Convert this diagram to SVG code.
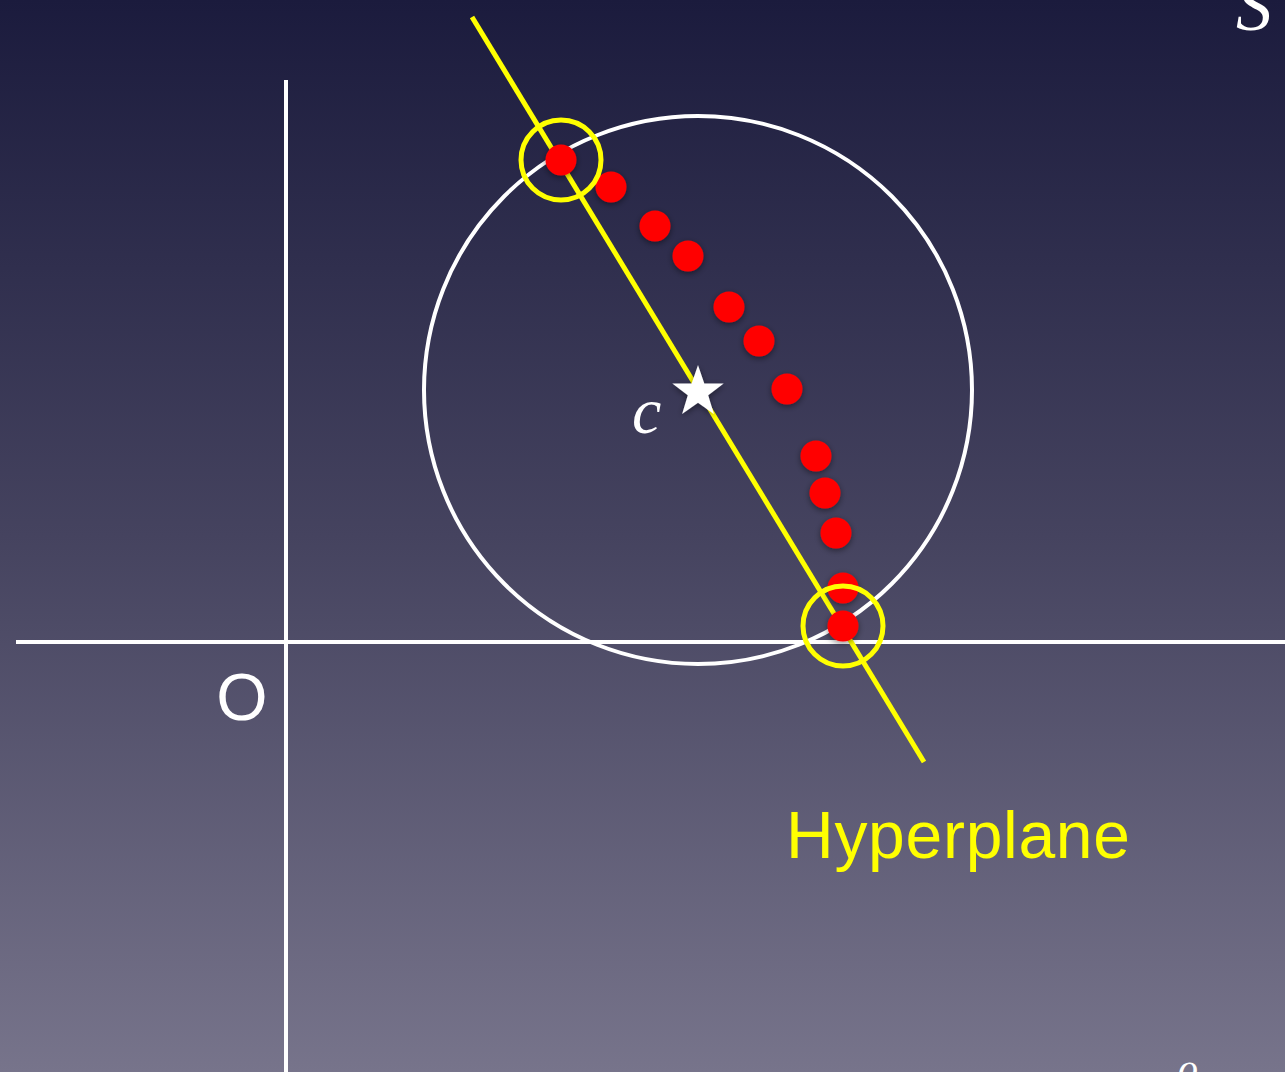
<svg xmlns="http://www.w3.org/2000/svg" width="1285" height="1072" viewBox="0 0 1285 1072">
<defs>
<linearGradient id="bg" x1="0" y1="0" x2="0" y2="1">
<stop offset="0" stop-color="#1b1b3d"/>
<stop offset="0.5" stop-color="#45435f"/>
<stop offset="1" stop-color="#77748b"/>
</linearGradient>
<filter id="sh" x="-50%" y="-50%" width="200%" height="200%">
<feDropShadow dx="0" dy="2" stdDeviation="3" flood-color="#000" flood-opacity="0.45"/>
</filter>
</defs>
<style>
.axis{stroke:#fff;stroke-width:4;fill:none}
.ring{stroke:#fff;stroke-width:4;fill:none}
.hyp{stroke:#ffff00;stroke-width:5;fill:none}
.dot{fill:#ff0000;filter:url(#sh)}
.lbl{font-family:"Liberation Sans",Arial,sans-serif;}
.math{font-family:"Liberation Serif","DejaVu Serif",serif;font-style:italic;fill:#fff}
</style>
<rect width="1285" height="1072" fill="url(#bg)"/>
<g id="axes">
<line class="axis" x1="286" y1="80" x2="286" y2="1072"/>
<line class="axis" x1="16" y1="642" x2="1285" y2="642"/>
<text class="lbl" x="242" y="720" font-size="66" fill="#fff" text-anchor="middle">O</text>
</g>
<g id="ball">
<circle class="ring" cx="698" cy="390" r="274"/>
</g>
<g id="connectors">
<line class="hyp" x1="472" y1="17" x2="924" y2="762"/>
</g>
<g id="points">
<circle class="dot" cx="561" cy="160" r="15.5"/>
<circle class="dot" cx="611" cy="187" r="15.5"/>
<circle class="dot" cx="655" cy="226" r="15.5"/>
<circle class="dot" cx="688" cy="256" r="15.5"/>
<circle class="dot" cx="729" cy="307" r="15.5"/>
<circle class="dot" cx="759" cy="341" r="15.5"/>
<circle class="dot" cx="787" cy="389" r="15.5"/>
<circle class="dot" cx="816" cy="456" r="15.5"/>
<circle class="dot" cx="825" cy="493" r="15.5"/>
<circle class="dot" cx="836" cy="533" r="15.5"/>
<circle class="dot" cx="843" cy="588" r="15.5"/>
<circle class="dot" cx="843" cy="626" r="15.5"/>
</g>
<g id="support">
<circle class="hyp" cx="561" cy="160" r="40"/>
<circle class="hyp" cx="843" cy="626" r="40"/>
</g>
<g id="center">
<polygon fill="#fff" filter="url(#sh)" points="698,365 704.3,383.4 723.7,383.6 708.2,395.3 713.9,413.9 698,402.7 682.1,413.9 687.8,395.3 672.3,383.6 691.7,383.4"/>
<text class="math" x="632" y="433" font-size="66">c</text>
</g>
<g id="hyperplane-label">
<text class="lbl" x="786" y="858" font-size="66" fill="#ffff00" textLength="344">Hyperplane</text>
</g>
<g id="cropped-text">
<text class="math" x="1236" y="30" font-size="72">S</text>
<text class="math" x="1178" y="1082" font-size="40" font-style="normal">o</text>
</g>
</svg>
